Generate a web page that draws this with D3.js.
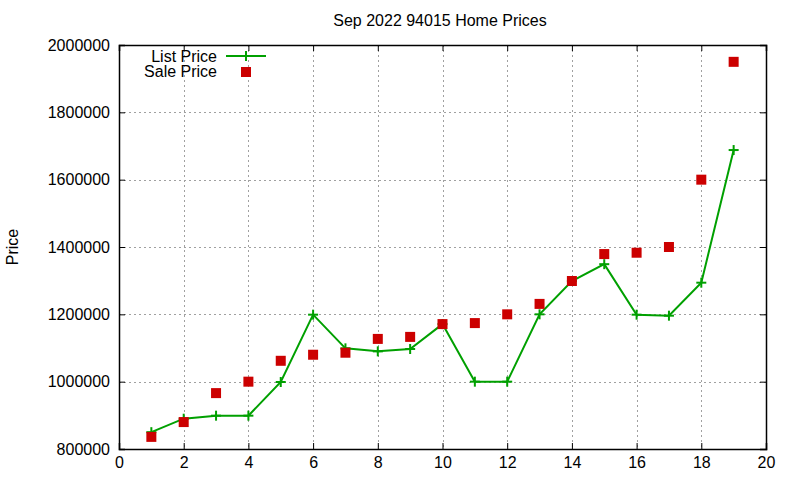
<!DOCTYPE html>
<html>
<head>
<meta charset="utf-8">
<script src="https://cdn.jsdelivr.net/npm/d3@7"></script>
<style>
  body { margin: 0; background: #fff; }
  svg text { font-family: "Liberation Sans", Arial, sans-serif; }
</style>
</head>
<body>
<svg id="chart" width="800" height="480"></svg>
<script>
// data
var months = [1, 2, 3, 4, 5, 6, 7, 8, 9, 10, 11, 12, 13, 14, 15, 16, 17, 18, 19];
var listPrice = [850000, 890000, 899000, 899000, 999000, 1199000, 1099000, 1090000, 1097000, 1171000,
                 1000000, 1000000, 1200000, 1299000, 1349000, 1199000, 1196000, 1294000, 1688000];
var salePrice = [836000, 880000, 966000, 1000000, 1062000, 1080000, 1086000, 1127000, 1133000, 1171000,
                 1174000, 1200000, 1231000, 1299000, 1379000, 1383000, 1400000, 1600000, 1950000];
var xTicks = [0, 2, 4, 6, 8, 10, 12, 14, 16, 18, 20];
var yTicks = [800000, 1000000, 1200000, 1400000, 1600000, 1800000, 2000000];

(function() {
    'use strict';
    var svg = d3.select('#chart'),
        pLeft = 119, pRight = 766, pTop = 45, pBottom = 449,
        GREEN = '#00a000', RED = '#cc0000', GRID = '#a0a0a0';

    var x = d3.scaleLinear().domain([0, 20]).range([pLeft, pRight]);
    var y = d3.scaleLinear().domain([800000, 2000000]).range([pBottom, pTop]);

    // grid
    var grid = svg.append('g').attr('class', 'grid');
    grid.selectAll('.gx').data(xTicks.slice(1, -1)).enter().append('line')
        .attr('x1', function(d) { return Math.round(x(d)) + 0.5; })
        .attr('x2', function(d) { return Math.round(x(d)) + 0.5; })
        .attr('y1', pTop).attr('y2', pBottom);
    grid.selectAll('.gy').data(yTicks.slice(1, -1)).enter().append('line')
        .attr('y1', function(d) { return Math.round(y(d)) + 0.5; })
        .attr('y2', function(d) { return Math.round(y(d)) + 0.5; })
        .attr('x1', pLeft).attr('x2', pRight);
    grid.selectAll('line').attr('stroke', GRID).attr('stroke-width', 1).attr('stroke-dasharray', '2,3');

    // axes (ticks inward, mirrored)
    var ax = svg.append('g').attr('class', 'axes');
    ax.append('g').attr('transform', 'translate(0,' + pBottom + ')')
        .call(d3.axisBottom(x).tickValues(xTicks).tickSize(-6).tickPadding(8).tickFormat(d3.format('d')));
    ax.append('g').attr('transform', 'translate(0,' + pTop + ')')
        .call(d3.axisTop(x).tickValues(xTicks).tickSize(-6).tickFormat(''));
    ax.append('g').attr('transform', 'translate(' + pLeft + ',0)')
        .call(d3.axisLeft(y).tickValues(yTicks).tickSize(-6).tickPadding(9).tickFormat(d3.format('d')));
    ax.append('g').attr('transform', 'translate(' + pRight + ',0)')
        .call(d3.axisRight(y).tickValues(yTicks).tickSize(-6).tickFormat(''));
    ax.selectAll('.domain').attr('stroke', '#000').attr('stroke-width', 1.5);
    ax.selectAll('.tick line').attr('stroke', '#000');
    ax.selectAll('.tick text').attr('font-size', 16).attr('fill', '#000')
        .attr('font-family', '"Liberation Sans", Arial, sans-serif');

    // title and y label
    svg.append('text').attr('x', 440).attr('y', 26).attr('text-anchor', 'middle')
        .attr('font-size', 16).text('Sep 2022 94015 Home Prices');
    svg.append('text').attr('transform', 'translate(18,247) rotate(-90)').attr('text-anchor', 'middle')
        .attr('font-size', 16).text('Price');

    // list price line
    var line = d3.line()
        .x(function(d, i) { return x(months[i]); })
        .y(function(d) { return y(d); });
    svg.append('path').datum(listPrice).attr('d', line)
        .attr('fill', 'none').attr('stroke', GREEN).attr('stroke-width', 2);

    var plus = function(sel, size) {
        sel.append('line').attr('x1', -size).attr('x2', size).attr('y1', 0).attr('y2', 0);
        sel.append('line').attr('y1', -size).attr('y2', size).attr('x1', 0).attr('x2', 0);
        sel.selectAll('line').attr('stroke', GREEN).attr('stroke-width', 2);
    };
    svg.selectAll('.lp').data(listPrice).enter().append('g').attr('class', 'lp')
        .attr('transform', function(d, i) { return 'translate(' + x(months[i]) + ',' + y(d) + ')'; })
        .call(plus, 5);

    // sale price squares
    svg.selectAll('.sp').data(salePrice).enter().append('rect').attr('class', 'sp')
        .attr('x', function(d, i) { return x(months[i]) - 5; })
        .attr('y', function(d) { return y(d) - 5; })
        .attr('width', 10).attr('height', 10).attr('fill', RED);

    // legend
    var lg = svg.append('g').attr('class', 'legend');
    lg.append('text').attr('x', 217).attr('y', 62).attr('text-anchor', 'end').attr('font-size', 16).text('List Price');
    lg.append('text').attr('x', 217).attr('y', 77).attr('text-anchor', 'end').attr('font-size', 16).text('Sale Price');
    lg.append('line').attr('x1', 226).attr('x2', 266).attr('y1', 56).attr('y2', 56)
        .attr('stroke', GREEN).attr('stroke-width', 2);
    lg.append('g').attr('transform', 'translate(246,56)').call(plus, 5);
    lg.append('rect').attr('x', 241).attr('y', 67).attr('width', 10).attr('height', 10).attr('fill', RED);
}());
</script>
</body>
</html>
